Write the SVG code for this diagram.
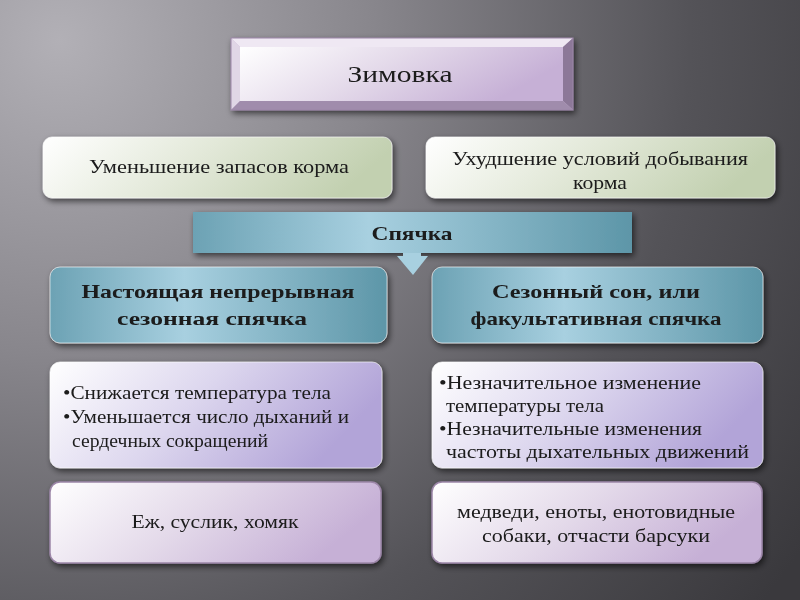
<svg xmlns="http://www.w3.org/2000/svg" width="800" height="600" viewBox="0 0 800 600">
<defs>
<radialGradient id="bg" cx="60" cy="40" r="900" gradientUnits="userSpaceOnUse">
<stop offset="0" stop-color="#b2b0b6"/>
<stop offset="0.35" stop-color="#88868c"/>
<stop offset="0.7" stop-color="#545358"/>
<stop offset="1" stop-color="#3a393d"/>
</radialGradient>
<linearGradient id="purple" x1="0" y1="0" x2="1" y2="0.3">
<stop offset="0" stop-color="#ffffff"/>
<stop offset="0.5" stop-color="#e4daea"/>
<stop offset="1" stop-color="#c6b0d6"/>
</linearGradient>
<linearGradient id="violet" x1="0" y1="0" x2="1" y2="0.3">
<stop offset="0" stop-color="#ffffff"/>
<stop offset="0.5" stop-color="#dcd6ee"/>
<stop offset="1" stop-color="#b2a4d8"/>
</linearGradient>
<linearGradient id="green" x1="0" y1="0" x2="1" y2="0.2">
<stop offset="0" stop-color="#ffffff"/>
<stop offset="0.5" stop-color="#e2e8d8"/>
<stop offset="1" stop-color="#c2d0b0"/>
</linearGradient>
<linearGradient id="blue" x1="0" y1="0" x2="1" y2="0">
<stop offset="0" stop-color="#6ca2b4"/>
<stop offset="0.4" stop-color="#a8d0e0"/>
<stop offset="1" stop-color="#5d96a8"/>
</linearGradient>
<filter id="sh" x="-10%" y="-20%" width="125%" height="150%">
<feGaussianBlur in="SourceAlpha" stdDeviation="3"/>
<feOffset dx="2" dy="3" result="b"/>
<feComponentTransfer><feFuncA type="linear" slope="0.6"/></feComponentTransfer>
<feMerge><feMergeNode/><feMergeNode in="SourceGraphic"/></feMerge>
</filter>
<style>
text{font-family:"Liberation Serif","DejaVu Serif",serif;fill:#1a1a1a;text-anchor:middle}
.n{font-size:18px}
.b{font-size:19px;font-weight:bold}
.l{text-anchor:start;font-size:18px}
.box{stroke:#ffffff;stroke-opacity:0.6;stroke-width:1}
</style>
</defs>
<rect x="0" y="0" width="800" height="600" fill="url(#bg)"/>

<g id="zimovka" filter="url(#sh)">
<rect x="231" y="38" width="342" height="72" fill="#c8b4d4"/>
<polygon points="231,38 573,38 563,47 240,47" fill="#efe8f3"/>
<polygon points="231,38 240,47 240,101 231,110" fill="#e0d6e6"/>
<polygon points="573,38 573,110 563,101 563,47" fill="#8c7898"/>
<polygon points="231,110 240,101 563,101 573,110" fill="#a08cac"/>
<rect x="240" y="47" width="323" height="54" fill="url(#purple)"/>
<rect x="231" y="38" width="342" height="72" fill="none" stroke="#9c86a8" stroke-width="1"/>
<text x="400" y="82" style="font-size:23px" textLength="105" lengthAdjust="spacingAndGlyphs">Зимовка</text>
</g>

<g id="reduce" filter="url(#sh)">
<rect class="box" x="43" y="137" width="349" height="61" rx="9" fill="url(#green)"/>
<text class="n" x="219" y="173" textLength="260" lengthAdjust="spacingAndGlyphs">Уменьшение запасов корма</text>
</g>

<g id="worse" filter="url(#sh)">
<rect class="box" x="426" y="137" width="349" height="61" rx="9" fill="url(#green)"/>
<text class="n" x="600" y="165" textLength="296" lengthAdjust="spacingAndGlyphs">Ухудшение условий добывания</text>
<text class="n" x="600" y="189" textLength="54" lengthAdjust="spacingAndGlyphs">корма</text>
</g>

<g id="spyachka" filter="url(#sh)">
<rect x="193" y="212" width="439" height="41" fill="url(#blue)"/>
<text class="b" x="412" y="240" textLength="81" lengthAdjust="spacingAndGlyphs">Спячка</text>
</g>

<g id="connectors">
<polygon points="403,253 421,253 421,256 428,256 413,275 397,256 403,256" fill="#a8d0e0"/>
</g>

<g id="true" filter="url(#sh)">
<rect class="box" x="50" y="267" width="337" height="76" rx="10" fill="url(#blue)"/>
<text class="b" x="218" y="298" textLength="273" lengthAdjust="spacingAndGlyphs">Настоящая непрерывная</text>
<text class="b" x="212" y="325" textLength="190" lengthAdjust="spacingAndGlyphs">сезонная спячка</text>
</g>

<g id="seasonal" filter="url(#sh)">
<rect class="box" x="432" y="267" width="331" height="76" rx="10" fill="url(#blue)"/>
<text class="b" x="596" y="298" textLength="208" lengthAdjust="spacingAndGlyphs">Сезонный сон, или</text>
<text class="b" x="596" y="325" textLength="251" lengthAdjust="spacingAndGlyphs">факультативная спячка</text>
</g>

<g id="true-signs" filter="url(#sh)">
<rect class="box" x="50" y="362" width="332" height="106" rx="10" fill="url(#violet)"/>
<text class="l" x="63" y="399" textLength="268" lengthAdjust="spacingAndGlyphs">•Снижается температура тела</text>
<text class="l" x="63" y="423" textLength="286" lengthAdjust="spacingAndGlyphs">•Уменьшается число дыханий и</text>
<text class="l" x="72" y="447" textLength="196" lengthAdjust="spacingAndGlyphs">сердечных сокращений</text>
</g>

<g id="seasonal-signs" filter="url(#sh)">
<rect class="box" x="432" y="362" width="331" height="106" rx="10" fill="url(#violet)"/>
<text class="l" x="439" y="389" textLength="262" lengthAdjust="spacingAndGlyphs">•Незначительное изменение</text>
<text class="l" x="446" y="412" textLength="158" lengthAdjust="spacingAndGlyphs">температуры тела</text>
<text class="l" x="439" y="435" textLength="263" lengthAdjust="spacingAndGlyphs">•Незначительные изменения</text>
<text class="l" x="446" y="458" textLength="303" lengthAdjust="spacingAndGlyphs">частоты дыхательных движений</text>
</g>

<g id="true-animals" filter="url(#sh)">
<rect x="50" y="482" width="331" height="81" rx="10" fill="url(#purple)" stroke="#9c86a8" stroke-width="1.5"/>
<text class="n" x="215" y="528" textLength="167" lengthAdjust="spacingAndGlyphs">Еж, суслик, хомяк</text>
</g>

<g id="seasonal-animals" filter="url(#sh)">
<rect x="432" y="482" width="330" height="81" rx="10" fill="url(#purple)" stroke="#9c86a8" stroke-width="1.5"/>
<text class="n" x="596" y="518" textLength="278" lengthAdjust="spacingAndGlyphs">медведи, еноты, енотовидные</text>
<text class="n" x="596" y="542" textLength="228" lengthAdjust="spacingAndGlyphs">собаки, отчасти барсуки</text>
</g>
</svg>
